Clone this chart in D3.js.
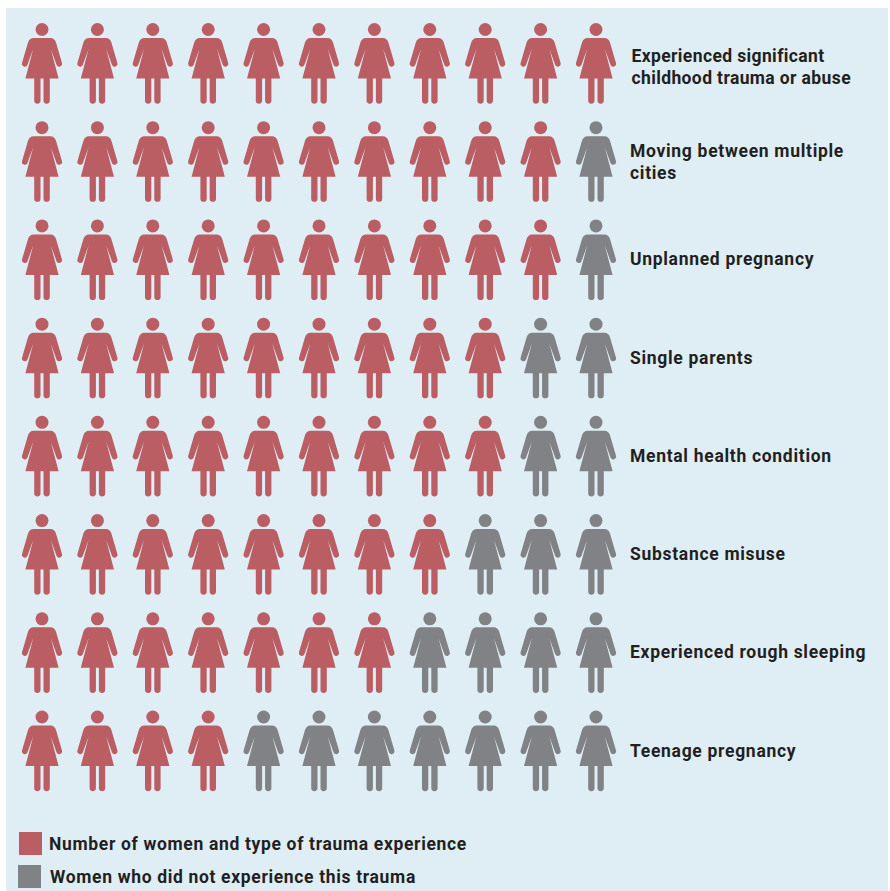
<!DOCTYPE html>
<html lang="en">
<head>
<meta charset="UTF-8">
<title>Women and trauma experience</title>
<script src="https://d3js.org/d3.v7.min.js"></script>
<style>
  html, body { margin: 0; padding: 0; background: #fff; }
  svg { display: block; }
  text { font-family: Roboto, sans-serif; font-weight: 700; fill: #231f20; font-size: 17.5px; letter-spacing: 0.7px; }
</style>
</head>
<body>
<div id="chart"></div>
<script>
// number of women (out of 11) per trauma type
const categories = [
  ["Experienced significant", "childhood trauma or abuse"],
  ["Moving between multiple", "cities"],
  ["Unplanned pregnancy"],
  ["Single parents"],
  ["Mental health condition"],
  ["Substance misuse"],
  ["Experienced rough sleeping"],
  ["Teenage pregnancy"]
];
const counts = [11, 10, 10, 9, 9, 8, 7, 4];
const totalWomen = 11;
const legendLabels = ["Number of women and type of trauma experience", "Women who did not experience this trauma"];

const width = 890, height = 891;
const red = "#ba5e63", grey = "#808285";

const svg = d3.select("#chart").append("svg")
  .attr("width", width)
  .attr("height", height);

// panel
svg.append("rect")
  .attr("x", 6).attr("y", 8)
  .attr("width", width - 8).attr("height", height - 8)
  .attr("fill", "#dfeef5");

const x = d3.scalePoint().domain(d3.range(totalWomen)).range([42, 596]);
const y = d3.scalePoint().domain(d3.range(categories.length)).range([29.5, 717]);

// figure, origin at the middle of the head
const bodyPath = "M-8.5,8.5 L8.5,8.5 Q12.5,8.5 14,13 L20,33.5 A2.9,2.9 0 0 1 14.6,35.5 L8.8,19.5 " +
  "L16.6,49 L7.8,49 L7.8,71 A3.1,3.1 0 0 1 1.5,71 L1.5,49 L-1.5,49 L-1.5,71 A3.1,3.1 0 0 1 -7.8,71 L-7.8,49 L-16.6,49 " +
  "L-8.8,19.5 L-14.6,35.5 A2.9,2.9 0 0 1 -20,33.5 L-14,13 Q-12.5,8.5 -8.5,8.5 Z";

const rows = svg.selectAll("g.row")
  .data(counts)
  .join("g")
  .attr("class", "row")
  .attr("transform", (d, i) => `translate(0,${y(i)})`);

const women = rows.selectAll("g.woman")
  .data(d => d3.range(totalWomen).map(k => k < d))
  .join("g")
  .attr("class", "woman")
  .attr("transform", (d, k) => `translate(${x(k)},0)`)
  .attr("fill", d => d ? red : grey);

women.append("circle").attr("r", 6.5);
women.append("path").attr("d", bodyPath);

// row labels, the first one is set a little tighter and sits lower than the second
rows.append("text")
  .attr("x", (d, i) => i === 0 ? 631.5 : 630)
  .attr("y", (d, i) => i === 0 ? 32 : i === 1 ? 29 : 39.5)
  .style("letter-spacing", (d, i) => i === 0 ? "0.38px" : null)
  .selectAll("tspan")
  .data((d, i) => categories[i])
  .join("tspan")
  .attr("x", function () { return this.parentNode.getAttribute("x"); })
  .attr("dy", (d, j) => j ? 22 : 0)
  .text(d => d);

// legend
const legend = svg.selectAll("g.legend")
  .data(legendLabels)
  .join("g")
  .attr("class", "legend")
  .attr("transform", (d, i) => `translate(${i ? 18 : 19},${i ? 865 : 832})`);

legend.append("rect")
  .attr("width", 23).attr("height", 23)
  .attr("fill", (d, i) => i ? grey : red);

legend.append("text")
  .attr("x", (d, i) => i ? 32 : 30)
  .attr("y", 18)
  .style("letter-spacing", "0.66px")
  .text(d => d);
</script>
</body>
</html>
